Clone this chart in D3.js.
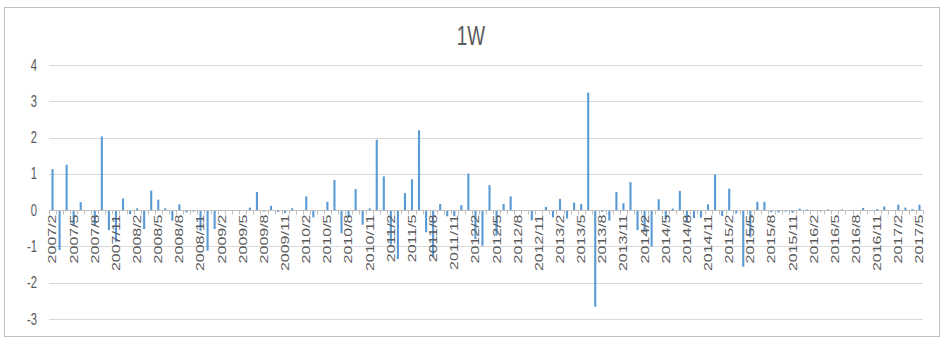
<!DOCTYPE html>
<html>
<head>
<meta charset="utf-8">
<script src="https://cdn.jsdelivr.net/npm/d3@7"></script>
<style>
  body { margin: 0; background: #fff; }
  text { font-family: "Liberation Sans", Arial, sans-serif; fill: #595959; }
</style>
</head>
<body>
<script>
// Data
const title = "1W";

// month labels 2007/2 .. 2017/5
const months = d3.timeMonth.range(new Date(2007, 1, 1), new Date(2017, 5, 1));
const categories = months.map(d => d.getFullYear() + "/" + (d.getMonth() + 1));

const values = [
  1.13, -1.10, 1.25, -0.43, 0.22, 0, -0.43, 2.03, -0.55, -0.87,
  0.32, -0.11, 0.05, -0.52, 0.54, 0.29, 0.05, -0.29, 0.16, -0.06,
  -0.04, -0.57, -1.12, -0.52, 0, 0, 0, 0, 0.07, 0.50,
  -0.04, 0.12, -0.05, -0.08, 0.05, 0, 0.38, -0.20, 0, 0.23,
  0.83, -0.64, -0.20, 0.58, -0.40, 0.05, 1.94, 0.93, -0.95, -1.35,
  0.47, 0.85, 2.20, -0.61, -1.30, 0.17, -0.17, -0.17, 0.14, 1.01,
  -0.80, -0.98, 0.69, -0.70, 0.17, 0.38, 0, 0, -0.28, 0,
  0.09, -0.20, 0.31, -0.23, 0.21, 0.17, 3.24, -2.66, -0.05, -0.29,
  0.50, 0.19, 0.77, -0.55, -0.60, -1.00, 0.30, -0.25, 0.04, 0.53,
  -0.34, -0.22, -0.21, 0.16, 0.98, -0.16, 0.59, -0.09, -1.56, -0.75,
  0.23, 0.23, -0.06, -0.06, -0.04, -0.07, 0.04, 0.02, 0, -0.04,
  0.02, 0, 0.02, 0, 0, 0.06, 0, 0.03, 0.10, 0,
  0.15, 0.07, 0.03, 0.15
];

const yTicks = [-3, -2, -1, 0, 1, 2, 3, 4];

// SVG
const W = 942, H = 341;
const svg = d3.select("body").append("svg")
    .attr("width", W)
    .attr("height", H);

// text in the picture is squeezed sideways
const sx = 0.7;

// chart frame
svg.append("rect")
    .attr("x", 4.5).attr("y", 7.5)
    .attr("width", 935).attr("height", 329)
    .attr("fill", "#fff")
    .attr("stroke", "#bfbfbf");

const plot = { left: 49, right: 923, top: 65, bottom: 319 };

const x = d3.scaleBand()
    .domain(categories)
    .range([plot.left, plot.right])
    .paddingInner(0.7)
    .paddingOuter(0.35);

const y = d3.scaleLinear()
    .domain([-3, 4])
    .range([plot.bottom, plot.top]);

// grid
svg.append("g")
    .selectAll("line")
    .data(yTicks.filter(t => t !== 0))
    .join("line")
    .attr("x1", plot.left).attr("x2", plot.right)
    .attr("y1", d => Math.round(y(d)) + 0.5)
    .attr("y2", d => Math.round(y(d)) + 0.5)
    .attr("stroke", "#d9d9d9");

// y labels
svg.append("g")
    .selectAll("text")
    .data(yTicks)
    .join("text")
    .attr("transform", d => "translate(37," + y(d) + ") scale(" + sx + ",1)")
    .attr("dy", "0.35em")
    .attr("text-anchor", "end")
    .attr("font-size", "16px")
    .text(d => d);

// bars
svg.append("g")
    .selectAll("rect")
    .data(values)
    .join("rect")
    .attr("x", (d, i) => x(categories[i]))
    .attr("width", x.bandwidth())
    .attr("y", d => y(Math.max(0, d)))
    .attr("height", d => Math.abs(y(d) - y(0)))
    .attr("fill", "#5b9bd5");

// zero axis with small ticks between categories
const y0 = Math.round(y(0)) + 0.5;
svg.append("line")
    .attr("x1", plot.left).attr("x2", plot.right)
    .attr("y1", y0).attr("y2", y0)
    .attr("stroke", "#bfbfbf");

const n = categories.length;
svg.append("g")
    .selectAll("line")
    .data(d3.range(n + 1))
    .join("line")
    .attr("x1", i => Math.round(plot.left + i * (plot.right - plot.left) / n) + 0.5)
    .attr("x2", i => Math.round(plot.left + i * (plot.right - plot.left) / n) + 0.5)
    .attr("y1", y0).attr("y2", y0 + 4)
    .attr("stroke", "#bfbfbf");

// x labels every third month
svg.append("g")
    .selectAll("text")
    .data(categories.filter((c, i) => i % 3 === 0))
    .join("text")
    .attr("transform", d => "translate(" + (x(d) + x.bandwidth() / 2) + "," + (y0 + 4) + ") scale(" + sx + ",1) rotate(-90)")
    .attr("dy", "0.35em")
    .attr("text-anchor", "end")
    .attr("font-size", "16px")
    .text(d => d);

// title
svg.append("text")
    .attr("transform", "translate(" + (W / 2) + ",45) scale(" + sx + ",1)")
    .attr("text-anchor", "middle")
    .attr("font-size", "27px")
    .text(title);
</script>
</body>
</html>
